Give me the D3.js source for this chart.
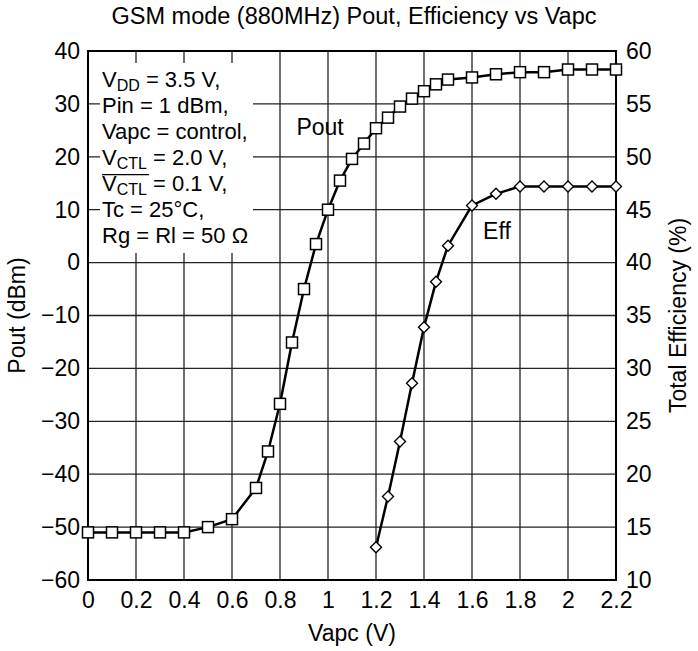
<!DOCTYPE html>
<html>
<head>
<meta charset="utf-8">
<script src="https://cdn.jsdelivr.net/npm/d3@7"></script>
<style>
  body { margin: 0; background: #fff; }
  text { font-family: "Liberation Sans", Arial, sans-serif; fill: #000; }
</style>
</head>
<body>
<div id="chart"></div>
<script>
// Pout curve (dBm) vs Vapc
var poutVapc = [0, 0.1, 0.2, 0.3, 0.4, 0.5, 0.6, 0.7, 0.75, 0.8, 0.85, 0.9, 0.95, 1.0, 1.05, 1.1, 1.15, 1.2, 1.25, 1.3, 1.35, 1.4, 1.45, 1.5, 1.6, 1.7, 1.8, 1.9, 2.0, 2.1, 2.2];
var poutValues = [-51, -51, -51, -51, -51, -50, -48.5, -42.6, -35.7, -26.7, -15.1, -5, 3.5, 10, 15.5, 19.6, 22.5, 25.4, 27.4, 29.5, 31, 32.4, 33.7, 34.6, 35, 35.6, 36, 36, 36.5, 36.5, 36.5];

// Total efficiency (%) vs Vapc
var effVapc = [1.2, 1.25, 1.3, 1.35, 1.4, 1.45, 1.5, 1.6, 1.7, 1.8, 1.9, 2.0, 2.1, 2.2];
var effValues = [13.1, 17.9, 23.1, 28.6, 33.9, 38.2, 41.6, 45.4, 46.5, 47.2, 47.2, 47.2, 47.2, 47.2];

var xTicks = [0, 0.2, 0.4, 0.6, 0.8, 1, 1.2, 1.4, 1.6, 1.8, 2, 2.2];
var yLeftTicks = [-60, -50, -40, -30, -20, -10, 0, 10, 20, 30, 40];
var yRightTicks = [10, 15, 20, 25, 30, 35, 40, 45, 50, 55, 60];

// test conditions (text, subscript, rest, overline?)
var conditions = [
  ["V", "DD", " = 3.5 V,", false],
  ["Pin = 1 dBm,", "", "", false],
  ["Vapc = control,", "", "", false],
  ["V", "CTL", " = 2.0 V,", false],
  ["V", "CTL", " = 0.1 V,", true],
  ["Tc = 25°C,", "", "", false],
  ["Rg = Rl = 50 Ω", "", "", false]
];

var margin = {top: 51, right: 82, bottom: 71, left: 88},
    width = 698 - margin.left - margin.right,
    height = 651 - margin.top - margin.bottom;

var svg = d3.select("#chart")
  .append("svg")
    .attr("width", 698)
    .attr("height", 651)
  .append("g")
    .attr("transform", "translate(" + margin.left + "," + margin.top + ")");

var xScale = d3.scaleLinear().domain([0, 2.2]).range([0, width]);
var yLeft = d3.scaleLinear().domain([-60, 40]).range([height, 0]);
var yRight = d3.scaleLinear().domain([10, 60]).range([height, 0]);

// grid
svg.append("g")
  .selectAll("line")
  .data(xTicks)
  .enter().append("line")
    .attr("x1", function(d) { return xScale(d); })
    .attr("x2", function(d) { return xScale(d); })
    .attr("y1", 0).attr("y2", height)
    .attr("stroke", "#333").attr("stroke-width", 1.4);
svg.append("g")
  .selectAll("line")
  .data(yLeftTicks)
  .enter().append("line")
    .attr("y1", function(d) { return yLeft(d); })
    .attr("y2", function(d) { return yLeft(d); })
    .attr("x1", 0).attr("x2", width)
    .attr("stroke", "#222").attr("stroke-width", 1.3);

// border
svg.append("rect")
  .attr("width", width).attr("height", height)
  .attr("fill", "none").attr("stroke", "#000").attr("stroke-width", 2);

// axes (labels only)
var fmt = function(d) { return d3.format("~g")(d).replace("-", "\u2212"); };
var xAxis = svg.append("g")
  .attr("transform", "translate(0," + height + ")")
  .call(d3.axisBottom(xScale).tickValues(xTicks).tickSize(0).tickPadding(12).tickFormat(fmt));
var yAxisL = svg.append("g")
  .call(d3.axisLeft(yLeft).tickValues(yLeftTicks).tickSize(0).tickPadding(8).tickFormat(fmt));
var yAxisR = svg.append("g")
  .attr("transform", "translate(" + width + ",0)")
  .call(d3.axisRight(yRight).tickValues(yRightTicks).tickSize(0).tickPadding(10).tickFormat(fmt));
[xAxis, yAxisL, yAxisR].forEach(function(a) {
  a.select(".domain").remove();
  a.selectAll("text").style("font-size", "23px").attr("font-family", null);
});

// conditions box
svg.append("rect")
  .attr("x", 12).attr("y", 12).attr("width", 153).attr("height", 190)
  .attr("fill", "#fff");

var tb = svg.append("g").attr("transform", "translate(14,0)");
var baseY = 35.7, lineH = 26.1;
conditions.forEach(function(c, i) {
  var y = baseY + i * lineH;
  var t = tb.append("text").attr("x", 0).attr("y", y).style("font-size", "22px");
  var a = t.append("tspan").text(c[0]);
  if (c[1]) {
    var s = t.append("tspan").attr("dy", 4).style("font-size", "16px").text(c[1]);
    t.append("tspan").attr("dy", -4).text(c[2]);
    if (c[3]) {
      var w = a.node().getComputedTextLength() + s.node().getComputedTextLength();
      tb.append("line").attr("x1", 0).attr("x2", w + 2)
        .attr("y1", y - 16.5).attr("y2", y - 16.5)
        .attr("stroke", "#000").attr("stroke-width", 1.3);
    }
  }
});

// lines
var poutData = poutVapc.map(function(v, i) { return {x: v, y: poutValues[i]}; });
var effData = effVapc.map(function(v, i) { return {x: v, y: effValues[i]}; });

svg.append("path").datum(poutData)
  .attr("fill", "none").attr("stroke", "#000").attr("stroke-width", 2.5)
  .attr("d", d3.line().x(function(d) { return xScale(d.x); }).y(function(d) { return yLeft(d.y); }));
svg.append("path").datum(effData)
  .attr("fill", "none").attr("stroke", "#000").attr("stroke-width", 2.5)
  .attr("d", d3.line().x(function(d) { return xScale(d.x); }).y(function(d) { return yRight(d.y); }));

// markers
var sq = 11;
svg.append("g").selectAll("rect")
  .data(poutData)
  .enter().append("rect")
    .attr("x", function(d) { return xScale(d.x) - sq / 2; })
    .attr("y", function(d) { return yLeft(d.y) - sq / 2; })
    .attr("width", sq).attr("height", sq)
    .attr("fill", "#fff").attr("stroke", "#000").attr("stroke-width", 1.5);

svg.append("g").selectAll("path")
  .data(effData)
  .enter().append("path")
    .attr("transform", function(d) { return "translate(" + xScale(d.x) + "," + yRight(d.y) + ")"; })
    .attr("d", "M0,-5.5L5.5,0L0,5.5L-5.5,0Z")
    .attr("fill", "#fff").attr("stroke", "#000").attr("stroke-width", 1.4);

// curve labels
svg.append("text").attr("x", xScale(0.967)).attr("y", yLeft(24.1))
  .attr("text-anchor", "middle").style("font-size", "23px").text("Pout");
svg.append("text").attr("x", xScale(1.704)).attr("y", yLeft(4.4))
  .attr("text-anchor", "middle").style("font-size", "23px").text("Eff");

// titles
svg.append("text").attr("x", width / 2 + 2).attr("y", -27)
  .attr("text-anchor", "middle").style("font-size", "23.5px")
  .text("GSM mode (880MHz) Pout, Efficiency vs Vapc");
svg.append("text").attr("x", width / 2).attr("y", height + 61)
  .attr("text-anchor", "middle").style("font-size", "23px").text("Vapc (V)");
svg.append("text").attr("transform", "translate(-63," + height / 2 + ") rotate(-90)")
  .attr("text-anchor", "middle").style("font-size", "23px").text("Pout (dBm)");
svg.append("text").attr("transform", "translate(" + (width + 70) + "," + height / 2 + ") rotate(-90)")
  .attr("text-anchor", "middle").style("font-size", "23px").text("Total Efficiency (%)");
</script>
</body>
</html>
